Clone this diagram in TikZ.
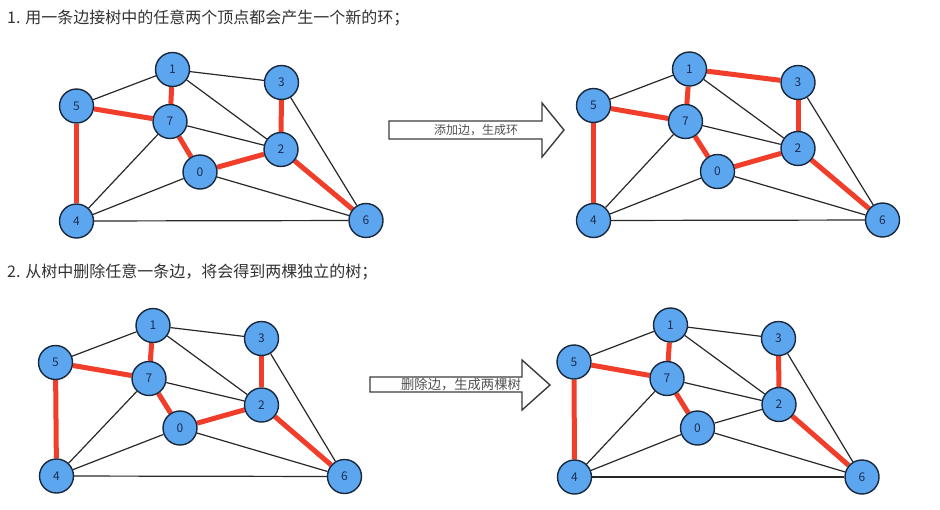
\documentclass[tikz,border=0pt]{standalone}
\usepackage{fontspec}
\setmainfont{Noto Sans CJK SC}
\pgfdeclarelayer{back}
\pgfdeclarelayer{bg}
\pgfsetlayers{back,bg,main}
\definecolor{vfill}{RGB}{92,166,240}
\definecolor{vborder}{RGB}{25,40,60}
\definecolor{vtext}{RGB}{30,45,80}
\definecolor{edgec}{RGB}{40,40,40}
\definecolor{treec}{RGB}{240,62,42}
\definecolor{titlec}{RGB}{50,50,50}
\definecolor{arrtxt}{RGB}{80,80,80}
\definecolor{arrline}{RGB}{60,60,60}
\tikzset{
  vtx/.style={circle, draw=vborder, fill=vfill, line width=1.4pt, minimum size=34pt, inner sep=0pt, text=vtext, font=\fontsize{12}{12}\selectfont},
  ed/.style={draw=edgec, line width=1.2pt},
  tr/.style={draw=treec, line width=5pt},
  titletext/.style={anchor=west, inner sep=0pt, text=titlec, font=\fontsize{16}{16}\selectfont},
  arrowshape/.style={draw=arrline, fill=white, line width=1.4pt, line join=miter},
  arrowtext/.style={inner sep=0pt, text=arrtxt},
}
\newcommand\mygraph[9]{%
  \node[vtx] (#1-0) at (#2) {0};
  \node[vtx] (#1-1) at (#3) {1};
  \node[vtx] (#1-2) at (#4) {2};
  \node[vtx] (#1-3) at (#5) {3};
  \node[vtx] (#1-4) at (#6) {4};
  \node[vtx] (#1-5) at (#7) {5};
  \node[vtx] (#1-6) at (#8) {6};
  \node[vtx] (#1-7) at (#9) {7};
}
\newcommand\myedges[1]{%
  \begin{pgfonlayer}{bg}
  \draw[ed] (#1-5) -- (#1-1);
  \draw[ed] (#1-1) -- (#1-2);
  \draw[ed] (#1-7) -- (#1-2);
  \draw[ed] (#1-7) -- (#1-4);
  \draw[ed] (#1-0) -- (#1-4);
  \draw[ed] (#1-0) -- (#1-6);
  \draw[ed] (#1-3) -- (#1-6);
  \draw[ed] (#1-4) -- (#1-6);
  \draw[tr] (#1-1) -- (#1-7);
  \draw[tr] (#1-5) -- (#1-7);
  \draw[tr] (#1-5) -- (#1-4);
  \draw[tr] (#1-7) -- (#1-0);
  \draw[tr] (#1-3) -- (#1-2);
  \draw[tr] (#1-2) -- (#1-6);
  \end{pgfonlayer}%
}
\begin{document}
\begin{tikzpicture}[x=1pt,y=-1pt]
\begin{pgfonlayer}{back}
\fill[white] (0,0) rectangle (940,509);
\end{pgfonlayer}
\useasboundingbox (0,0) rectangle (940,509);

% titles
\node[titletext] (t1) at (7,18) {1. 用一条边接树中的任意两个顶点都会产生一个新的环；};
\node[titletext] (t2) at (7,272) {2. 从树中删除任意一条边，将会得到两棵独立的树；};

% graph A (top left)
\mygraph{a}{200,172}{172.5,69.5}{281,149.5}{281.5,82.5}{76.5,221}{76.5,106}{366,220.5}{170,121.5}
\myedges{a}
\begin{pgfonlayer}{bg}
\draw[ed] (a-1) -- (a-3);
\draw[tr] (a-0) -- (a-2);
\end{pgfonlayer}

% graph B (top right)
\mygraph{b}{717.5,171.5}{689.5,69}{798,148.5}{798,82.5}{593.5,220.5}{593.5,105.5}{882.5,220}{685.5,121.5}
\myedges{b}
\begin{pgfonlayer}{bg}
\draw[tr] (b-1) -- (b-3);
\draw[tr] (b-0) -- (b-2);
\end{pgfonlayer}

% graph C (bottom left)
\mygraph{c}{180,428}{153,325.5}{261.5,405}{261.5,338.5}{56.5,476}{55.5,362.5}{344.5,476.5}{149,378.5}
\myedges{c}
\begin{pgfonlayer}{bg}
\draw[ed] (c-1) -- (c-3);
\draw[tr] (c-0) -- (c-2);
\end{pgfonlayer}

% graph D (bottom right)
\mygraph{d}{697.5,428}{670.5,325}{779,404.5}{778.5,338.5}{574.5,477}{574,362}{862,477}{667,378.5}
\myedges{d}
\begin{pgfonlayer}{bg}
\draw[ed] (d-1) -- (d-3);
\draw[ed] (d-0) -- (d-2);
\end{pgfonlayer}

% arrows
\draw[arrowshape] (389,121) -- (542,121) -- (542,103) -- (564,130) -- (542,157) -- (542,139) -- (389,139) -- cycle;
\node[arrowtext, font=\fontsize{12}{12}\selectfont] (l1) at (476,130) {添加边，生成环};

\draw[arrowshape] (370,377) -- (522,377) -- (522,360) -- (550,385) -- (522,410) -- (522,392) -- (370,392) -- cycle;
\node[arrowtext, font=\fontsize{13.3}{13.3}\selectfont] (l2) at (461,384.5) {删除边，生成两棵树};
\end{tikzpicture}
\end{document}
